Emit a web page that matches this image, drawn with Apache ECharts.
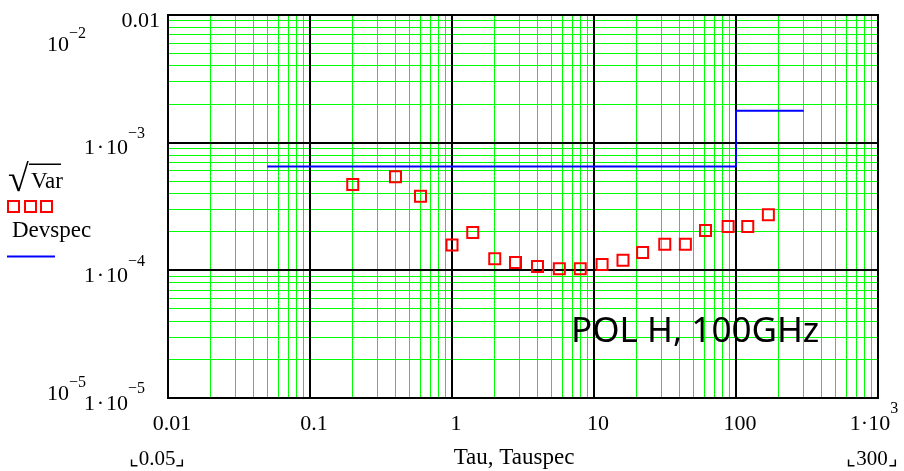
<!DOCTYPE html>
<html>
<head>
<meta charset="utf-8">
<style>
  html, body { margin: 0; padding: 0; background: #fff; }
  #chart { width: 904px; height: 471px; }
</style>
<script src="https://cdn.jsdelivr.net/npm/echarts@6/dist/echarts.min.js"></script>
</head>
<body>
<div id="chart"></div>
<script>
// Measured Allan deviation (sqrt of variance) versus averaging time
const tau = [0.2, 0.4, 0.6, 1, 1.4, 2, 2.8, 4, 5.7, 8, 11.4, 16, 22, 31.5, 44, 61, 88, 121, 169];
const sqrtVar = [4.7e-4, 5.4e-4, 3.8e-4, 1.58e-4, 1.98e-4, 1.23e-4, 1.15e-4, 1.07e-4, 1.03e-4, 1.03e-4,
                 1.11e-4, 1.2e-4, 1.38e-4, 1.6e-4, 1.6e-4, 2.05e-4, 2.2e-4, 2.2e-4, 2.73e-4];

// Specification limit (step)
const tauSpec = [0.05, 100, 100, 300];
const devSpec = [6.5e-4, 6.5e-4, 1.78e-3, 1.78e-3];

// Axis ranges
const X_MIN = 0.01, X_MAX = 1000;
const Y_MIN = 1e-5, Y_MAX = 1e-2;
const xDecades = [-2, -1, 0, 1, 2, 3];
const yDecades = [-5, -4, -3, -2];
const subMultiples = [2, 3, 4, 5, 6, 7, 8, 9];

const SERIF = '"Liberation Serif", "DejaVu Serif", serif';
const DOT = '\u200a\u00b7\u200a';

// Grid lines: [x, y, orientation]  (0 = vertical, 1 = horizontal)
const vMinor = [], hMinor = [], majorGrid = [];
xDecades.slice(0, -1).forEach(e => subMultiples.forEach(m => vMinor.push([m * Math.pow(10, e), Y_MIN, 0])));
yDecades.slice(0, -1).forEach(e => subMultiples.forEach(m => hMinor.push([X_MIN, m * Math.pow(10, e), 1])));
xDecades.forEach(e => majorGrid.push([Math.pow(10, e), Y_MIN, 0]));
yDecades.forEach(e => majorGrid.push([X_MIN, Math.pow(10, e), 1]));

// snap a line position to the pixel grid so thin lines stay crisp
const snap = (p, w) => (w % 2 === 1) ? Math.floor(p) + 0.5 : Math.round(p);

function gridRenderer(color, width) {
  return function (params, api) {
    const x = api.value(0), y = api.value(1), horiz = api.value(2) === 1;
    const a = horiz ? api.coord([X_MIN, y]) : api.coord([x, Y_MIN]);
    const b = horiz ? api.coord([X_MAX, y]) : api.coord([x, Y_MAX]);
    let shape;
    if (horiz) {
      const yy = snap(a[1], width);
      shape = { x1: a[0], y1: yy, x2: b[0], y2: yy };
    } else {
      const xx = snap(a[0], width);
      shape = { x1: xx, y1: a[1], x2: xx, y2: b[1] };
    }
    return { type: 'line', silent: true, shape: shape, style: { stroke: color, lineWidth: width, opacity: 1 } };
  };
}

const rich = {
  a: { fontFamily: SERIF, fontSize: 22, lineHeight: 22, color: '#000', padding: [12, 0, 0, 0] },
  s: { fontFamily: SERIF, fontSize: 16, lineHeight: 16, color: '#000', padding: [0, 15, 18, 0] },
  sx: { fontFamily: SERIF, fontSize: 16, lineHeight: 16, color: '#000', padding: [0, 16, 18, 0] }
};

function yLabel(v) {
  const e = Math.round(Math.log10(v));
  if (e === -2) return '{a|0.01}';
  return '{a|1' + DOT + '10}{s|\u2212' + (-e) + '}';
}
function xLabel(v) {
  const e = Math.round(Math.log10(v));
  if (e === 3) return '{a|1\u00b710}{sx|3}';
  if (e < 0) return '{a|' + Math.pow(10, e).toFixed(-e) + '}';
  return '{a|' + Math.pow(10, e) + '}';
}

const hiddenParts = {
  axisLine: { show: false }, axisTick: { show: false }, minorTick: { show: false },
  splitLine: { show: false }, minorSplitLine: { show: false }, splitArea: { show: false },
  axisPointer: { show: false }
};

const chart = echarts.init(document.getElementById('chart'), null, { renderer: 'canvas' });
chart.setOption({
  animation: false,
  backgroundColor: '#fff',
  tooltip: { show: false },
  grid: { left: 168, right: 26, top: 15, bottom: 73, outerBoundsMode: 'none', containLabel: false,
          show: true, borderColor: '#000', borderWidth: 2, backgroundColor: 'transparent' },
  xAxis: Object.assign({
    type: 'log', logBase: 10, min: X_MIN, max: X_MAX,
    axisLabel: { formatter: xLabel, rich: rich, margin: 9, padding: [0, 0, 0, 8], showMinLabel: true, showMaxLabel: true }
  }, hiddenParts),
  yAxis: Object.assign({
    type: 'log', logBase: 10, min: Y_MIN, max: Y_MAX,
    axisLabel: { formatter: yLabel, rich: rich, margin: 8, showMinLabel: true, showMaxLabel: true }
  }, hiddenParts),
  series: [
    { name: 'minor grid x', type: 'custom', z: 1, silent: true, clip: false,
      encode: { x: 0, y: 1 }, data: vMinor, renderItem: gridRenderer('#00ff00', 1) },
    { name: 'minor grid y', type: 'custom', z: 1, silent: true, clip: false,
      encode: { x: 0, y: 1 }, data: hMinor, renderItem: gridRenderer('#00ff00', 1) },
    { name: 'major grid', type: 'custom', z: 2, silent: true, clip: false,
      encode: { x: 0, y: 1 }, data: majorGrid, renderItem: gridRenderer('#000000', 2) },
    {
      name: 'Devspec', type: 'line', z: 3,
      data: tauSpec.map((t, i) => [t, devSpec[i]]),
      showSymbol: false, symbol: 'none',
      lineStyle: { color: '#0000ff', width: 2 }
    },
    {
      name: 'Var', type: 'scatter', z: 4,
      data: tau.map((t, i) => [t, sqrtVar[i]]),
      symbol: 'rect', symbolSize: 11,
      itemStyle: { color: 'rgba(0,0,0,0)', borderColor: '#ff0000', borderWidth: 2, opacity: 1 }
    }
  ],
  graphic: [
    // range markers of the y axis
    { type: 'text', left: 47, top: 26, style: { text: '{a|10}{s|\u22122}', rich: {
        a: { fontFamily: SERIF, fontSize: 22, lineHeight: 22, padding: [8, 0, 0, 0] },
        s: { fontFamily: SERIF, fontSize: 16, lineHeight: 16, padding: [0, 0, 14, 0] } } }, z: 10 },
    { type: 'text', left: 47, top: 375, style: { text: '{a|10}{s|\u22125}', rich: {
        a: { fontFamily: SERIF, fontSize: 22, lineHeight: 22, padding: [8, 0, 0, 0] },
        s: { fontFamily: SERIF, fontSize: 16, lineHeight: 16, padding: [0, 0, 14, 0] } } }, z: 10 },
    // trace range markers of the x axis
    { type: 'text', x: 157, y: 459, style: { text: '\u231e0.05\u231f', font: '21px ' + SERIF, fill: '#000', align: 'center', verticalAlign: 'middle' }, z: 10 },
    { type: 'text', x: 872, y: 459, style: { text: '\u231e300\u231f', font: '21px ' + SERIF, fill: '#000', align: 'center', verticalAlign: 'middle' }, z: 10 },
    // axis title
    { type: 'text', x: 514, y: 458, style: { text: 'Tau, Tauspec', font: '23px ' + SERIF, fill: '#000', align: 'center', verticalAlign: 'middle' }, z: 10 },
    // trace legend
    { type: 'text', x: 8, y: 181, style: { text: '\u221a', font: '38px ' + SERIF, fill: '#000', align: 'left', verticalAlign: 'middle' }, z: 10 },
    { type: 'rect', shape: { x: 29, y: 163.5, width: 32, height: 1.5 }, style: { fill: '#000' }, z: 10 },
    { type: 'text', x: 31, y: 182, style: { text: 'Var', font: '23px ' + SERIF, fill: '#000', align: 'left', verticalAlign: 'middle' }, z: 10 },
    { type: 'rect', shape: { x: 8, y: 201, width: 11, height: 11 }, style: { fill: 'none', stroke: '#ff0000', lineWidth: 2 }, z: 10 },
    { type: 'rect', shape: { x: 25, y: 201, width: 11, height: 11 }, style: { fill: 'none', stroke: '#ff0000', lineWidth: 2 }, z: 10 },
    { type: 'rect', shape: { x: 41, y: 201, width: 11, height: 11 }, style: { fill: 'none', stroke: '#ff0000', lineWidth: 2 }, z: 10 },
    { type: 'text', x: 12, y: 231, style: { text: 'Devspec', font: '23px ' + SERIF, fill: '#000', align: 'left', verticalAlign: 'middle' }, z: 10 },
    { type: 'line', shape: { x1: 7, y1: 256.5, x2: 55, y2: 256.5 }, style: { stroke: '#0000ff', lineWidth: 2 }, z: 10 },
    // annotation
    { type: 'text', x: 571, y: 332, style: { text: 'POL H, 100GHz', font: '35px "Noto Sans", "Open Sans", sans-serif', fill: '#000', align: 'left', verticalAlign: 'middle' }, z: 10 }
  ]
});
</script>
</body>
</html>
